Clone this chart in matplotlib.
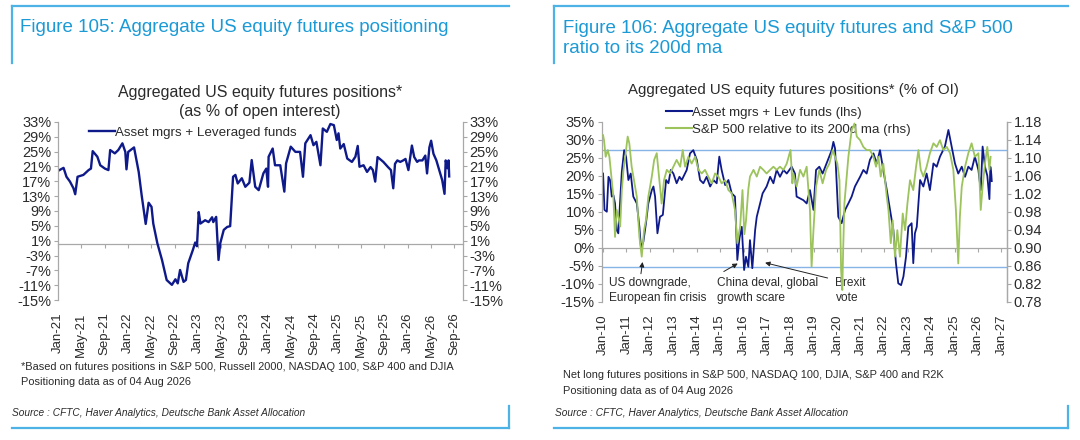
# -*- coding: utf-8 -*-
"""
Posicionamento agregado em futuros de acoes dos EUA (Figuras 105 e 106).
"""

import matplotlib.pyplot as plt
import matplotlib.dates as mdates
import matplotlib.ticker as mticker
import numpy as np
import pandas as pd
from matplotlib.lines import Line2D

plt.rcParams["font.family"] = ["Liberation Sans", "DejaVu Sans"]

################## Dados ##################

# Figura 105: meses desde jan/2021 e posicao liquida (% do open interest)
meses_esq = [
    0.2, 0.9, 1.4, 2.0, 2.6, 2.9, 3.3, 4.3, 5.2, 5.6, 5.9, 6.7, 7.2, 8.0, 8.6,
    8.9, 9.7, 10.3, 11.0, 11.5, 11.7, 12.0, 13.0, 13.8, 14.3, 15.0, 15.5, 16.0,
    16.3, 17.0, 17.8, 18.6, 19.5, 20.1, 20.5, 20.9, 21.5, 21.9, 22.3, 23.1,
    23.5, 23.8, 24.1, 24.4, 25.2, 25.8, 26.4, 26.6, 27.1, 27.5, 27.8, 28.4,
    29.0, 29.5, 30.0, 30.4, 30.8, 31.5, 32.1, 32.8, 33.2, 33.8, 34.4, 35.2,
    35.7, 36.0, 36.1, 36.8, 37.2, 38.1, 38.8, 39.1, 39.9, 40.7, 41.5, 42.0,
    42.4, 43.3, 43.8, 44.3, 45.0, 45.4, 46.1, 46.7, 47.3, 47.8, 48.1, 48.4,
    49.0, 49.6, 50.4, 51.0, 51.4, 51.7, 52.4, 53.0, 53.6, 54.0, 54.4, 54.8,
    55.2, 55.8, 56.6, 57.1, 57.5, 57.8, 58.2, 58.7, 59.2, 59.6, 60.1, 60.5,
    60.7, 61.1, 61.6, 61.9, 62.5, 63.0, 63.3, 63.7, 64.0, 64.4, 64.9, 65.4,
    65.9, 66.3, 66.5, 66.8, 67.0, 67.1,
]
posicao_esq = [
    20.0, 20.6, 18.2, 16.9, 15.1, 13.5, 18.2, 18.7, 20.0, 20.4, 25.1, 23.6,
    21.3, 20.4, 20.0, 25.4, 24.5, 25.4, 27.2, 24.9, 20.2, 24.9, 26.1, 19.5,
    13.3, 5.5, 11.2, 10.1, 5.6, 0.3, -4.2, -9.6, -10.9, -9.4, -10.5, -6.9,
    -10.1, -9.6, -5.1, -1.5, 0.5, -0.5, 8.7, 5.6, 6.5, 6.0, 7.3, 6.0, 7.4,
    -4.2, 0.3, 3.9, 4.7, 4.9, 18.2, 18.7, 16.4, 17.8, 15.5, 16.6, 22.7, 15.5,
    14.6, 19.1, 20.4, 15.5, 23.6, 25.8, 21.3, 21.3, 14.2, 21.8, 26.3, 24.9,
    24.9, 18.2, 27.2, 29.4, 26.7, 27.6, 21.3, 31.2, 30.3, 32.4, 32.1, 28.1,
    29.9, 25.8, 27.0, 23.1, 22.2, 23.6, 26.5, 20.9, 21.3, 19.5, 20.8, 20.0,
    16.9, 23.5, 23.0, 22.2, 20.8, 20.0, 15.1, 21.7, 22.6, 22.2, 22.6, 23.0,
    20.0, 24.4, 26.6, 23.5, 22.2, 22.6, 22.6, 23.9, 19.1, 26.1, 27.9, 24.4,
    22.6, 20.0, 17.3, 13.6, 22.6, 20.5, 22.6, 18.3,
]

# Figura 106: anos (fracao decimal) e posicao liquida (% do OI, eixo esquerdo)
anos_pos = [
    2010.00, 2010.06, 2010.16, 2010.23, 2010.30, 2010.37, 2010.44, 2010.51,
    2010.58, 2010.65, 2010.73, 2010.80, 2010.90, 2010.98, 2011.08, 2011.18,
    2011.29, 2011.44, 2011.55, 2011.62, 2011.72, 2011.83, 2011.93, 2012.08,
    2012.15, 2012.22, 2012.32, 2012.43, 2012.55, 2012.69, 2012.79, 2012.89,
    2013.00, 2013.14, 2013.26, 2013.36, 2013.57, 2013.71, 2013.85, 2014.00,
    2014.14, 2014.28, 2014.42, 2014.57, 2014.71, 2014.85, 2014.96, 2015.06,
    2015.21, 2015.35, 2015.49, 2015.63, 2015.73, 2015.82, 2015.92, 2016.02,
    2016.10, 2016.20, 2016.27, 2016.37, 2016.49, 2016.56, 2016.70, 2016.81,
    2016.98, 2017.13, 2017.27, 2017.41, 2017.55, 2017.70, 2017.84, 2018.05,
    2018.19, 2018.26, 2018.41, 2018.55, 2018.69, 2018.83, 2018.98, 2019.09,
    2019.23, 2019.37, 2019.54, 2019.76, 2019.83, 2019.90, 2020.04, 2020.18,
    2020.33, 2020.47, 2020.61, 2020.75, 2020.97, 2021.11, 2021.25, 2021.39,
    2021.54, 2021.68, 2021.82, 2021.96, 2022.11, 2022.25, 2022.39, 2022.50,
    2022.60, 2022.72, 2022.82, 2022.93, 2023.03, 2023.17, 2023.24, 2023.31,
    2023.39, 2023.53, 2023.67, 2023.81, 2023.95, 2024.10, 2024.24, 2024.38,
    2024.59, 2024.74, 2024.88, 2025.02, 2025.16, 2025.31, 2025.45, 2025.59,
    2025.73, 2025.87, 2026.02, 2026.12, 2026.20, 2026.30, 2026.40, 2026.49,
    2026.53, 2026.57, 2026.59,
]
posicao_dir = [
    20.6, 10.5, 10.0, 19.7, 18.8, 14.2, 14.6, 12.3, 4.9, 4.0, 13.2, 21.1,
    27.1, 25.3, 18.8, 20.6, 14.2, 12.3, 5.8, -0.2, 1.7, 6.8, 12.3, 16.0, 17.0,
    14.2, 4.0, 8.6, 9.1, 18.8, 17.9, 21.6, 20.6, 17.9, 19.7, 18.8, 21.6, 26.2,
    27.1, 24.4, 18.8, 17.9, 19.7, 17.0, 18.8, 17.9, 25.3, 21.6, 17.4, 18.8,
    15.1, 14.2, -3.4, 2.6, 5.8, -6.2, -2.5, -5.3, 2.1, -5.7, 4.9, 8.6, 12.3,
    15.1, 17.0, 19.7, 17.9, 21.6, 19.7, 21.6, 20.6, 22.5, 20.6, 14.2, 13.7,
    13.2, 12.3, 16.0, 10.5, 21.6, 22.5, 20.6, 23.4, 27.1, 29.4, 27.6, 8.6, 6.8,
    10.5, 12.3, 14.2, 17.0, 19.7, 21.6, 20.6, 24.4, 26.2, 23.4, 27.1, 21.6,
    16.0, 10.5, 4.9, -4.3, -9.9, -10.4, -8.0, -2.5, 5.8, 6.8, -4.3, 4.0, 5.8,
    18.8, 17.0, 20.6, 16.0, 23.4, 22.5, 25.3, 28.1, 32.7, 28.1, 23.4, 20.6,
    22.5, 19.7, 22.5, 21.6, 25.3, 21.6, 16.0, 28.1, 22.5, 20.0, 13.5, 22.5,
    20.5, 18.5,
]

# Figura 106: S&P 500 relativo a media movel de 200 dias (eixo direito)
anos_spx = [
    2010.00, 2010.04, 2010.11, 2010.20, 2010.27, 2010.37, 2010.44, 2010.51,
    2010.58, 2010.65, 2010.73, 2010.80, 2010.87, 2010.98, 2011.05, 2011.12,
    2011.22, 2011.32, 2011.44, 2011.55, 2011.65, 2011.75, 2011.83, 2011.93,
    2012.08, 2012.18, 2012.29, 2012.40, 2012.50, 2012.60, 2012.72, 2012.86,
    2013.00, 2013.14, 2013.29, 2013.40, 2013.50, 2013.64, 2013.78, 2013.93,
    2014.07, 2014.21, 2014.35, 2014.49, 2014.64, 2014.78, 2014.92, 2015.06,
    2015.21, 2015.35, 2015.49, 2015.63, 2015.73, 2015.85, 2015.95, 2016.03,
    2016.10, 2016.20, 2016.27, 2016.42, 2016.56, 2016.70, 2016.84, 2016.98,
    2017.13, 2017.27, 2017.41, 2017.55, 2017.70, 2017.84, 2018.00, 2018.08,
    2018.12, 2018.26, 2018.41, 2018.55, 2018.69, 2018.83, 2018.90, 2018.98,
    2019.09, 2019.23, 2019.37, 2019.52, 2019.66, 2019.80, 2020.00, 2020.09,
    2020.16, 2020.21, 2020.25, 2020.30, 2020.40, 2020.47, 2020.61, 2020.73,
    2020.83, 2020.97, 2021.11, 2021.25, 2021.39, 2021.54, 2021.65, 2021.75,
    2021.85, 2021.96, 2022.11, 2022.18, 2022.28, 2022.36, 2022.46, 2022.56,
    2022.67, 2022.79, 2022.89, 2022.99, 2023.10, 2023.24, 2023.36, 2023.46,
    2023.56, 2023.67, 2023.81, 2023.95, 2024.10, 2024.24, 2024.38, 2024.52,
    2024.67, 2024.81, 2024.95, 2025.06, 2025.16, 2025.23, 2025.31, 2025.45,
    2025.59, 2025.73, 2025.87, 2026.02, 2026.12, 2026.20, 2026.30, 2026.40,
    2026.49, 2026.54,
]
spx_ratio = [
    1.150, 1.139, 1.102, 1.117, 1.102, 1.050, 1.013, 0.924, 0.984, 0.969,
    0.947, 1.028, 1.073, 1.117, 1.147, 1.132, 1.080, 1.050, 1.013, 0.924,
    0.880, 0.939, 0.961, 1.013, 1.058, 1.095, 1.110, 1.050, 0.998, 1.050,
    1.073, 1.065, 1.080, 1.095, 1.080, 1.117, 1.080, 1.102, 1.087, 1.102,
    1.073, 1.065, 1.073, 1.058, 1.043, 1.065, 1.058, 1.043, 1.050, 1.028,
    1.021, 0.984, 0.910, 0.947, 1.028, 0.930, 0.960, 1.030, 1.058, 1.073,
    1.058, 1.080, 1.073, 1.065, 1.073, 1.080, 1.073, 1.080, 1.073, 1.087,
    1.117, 1.043, 1.065, 1.036, 1.073, 1.058, 1.080, 0.984, 0.858, 0.939,
    1.036, 1.073, 1.043, 1.073, 1.087, 1.117, 1.087, 1.050, 0.850, 0.806,
    0.900, 0.998, 1.058, 1.102, 1.161, 1.176, 1.147, 1.139, 1.124, 1.117,
    1.117, 1.102, 1.080, 1.102, 1.058, 1.087, 1.013, 0.984, 0.910, 0.961,
    0.880, 0.939, 0.880, 0.976, 0.939, 0.998, 1.050, 1.028, 1.080, 1.117,
    1.073, 1.058, 1.080, 1.110, 1.132, 1.124, 1.139, 1.117, 1.124, 1.110,
    1.073, 0.984, 0.865, 0.969, 1.036, 1.080, 1.110, 1.132, 1.102, 1.110,
    0.984, 1.036, 1.087, 1.124, 1.073, 1.102,
]

# linhas de referencia horizontais (% do OI)
linhas_ref = [27.2, -5.4]

# eventos anotados: (texto, ano do texto, y do texto, ano da seta, y da seta, ano da ponta, y da ponta)
eventos = [
    ("US downgrade,\nEuropean fin crisis", 2010.25, -8.0, 2011.60, -8.0, 2011.70, -3.2),
    ("China deval, global\ngrowth scare", 2014.88, -8.0, 2015.05, -7.0, 2015.85, -4.0),
    ("Brexit\nvote", 2019.92, -8.0, 2019.70, -8.6, 2016.80, -4.0),
]

titulo_105 = "Figure 105: Aggregate US equity futures positioning"
titulo_106 = "Figure 106: Aggregate US equity futures and S&P 500\nratio to its 200d ma"
fonte = "Source : CFTC, Haver Analytics, Deutsche Bank Asset Allocation"


def meses_para_datas(meses):
    return pd.Timestamp("2021-01-01") + pd.to_timedelta(np.array(meses) * 30.44, unit="D")


def anos_para_datas(anos):
    return pd.Timestamp("2010-01-01") + pd.to_timedelta((np.array(anos) - 2010) * 365.25, unit="D")


################## Estilo ##################

AZUL = "#0f1a8a"
VERDE = "#9cc35c"
CINZA = "#a8a8a8"
TEXTO = "#2b2b2b"
AZUL_TITULO = "#1b9ad6"
AZUL_MOLDURA = "#4db2e6"
AZUL_REF = "#86b4e6"


def estilo_eixos(ax, zero_frac, ticks_x):
    for lado in ["top", "bottom"]:
        ax.spines[lado].set_visible(False)
    for lado in ["left", "right"]:
        ax.spines[lado].set_color(CINZA)
        ax.spines[lado].set_linewidth(0.9)
    ax.tick_params(axis="y", direction="out", length=3, color=CINZA,
                   labelcolor=TEXTO, labelsize=10.5, pad=2)
    ax.tick_params(axis="x", length=0, labelrotation=90, labelsize=9.5,
                   labelcolor=TEXTO, pad=9)
    ax.set_xticks(ticks_x)
    # eixo do zero com marcas de tick
    zero = ax.secondary_xaxis(zero_frac)
    zero.set_xticks(mdates.date2num(ticks_x))
    zero.xaxis.set_major_formatter(mticker.NullFormatter())
    zero.spines["bottom"].set_color(CINZA)
    zero.spines["bottom"].set_linewidth(0.9)
    zero.tick_params(direction="out", length=3, color=CINZA)


fig = plt.figure(figsize=(10.8, 4.4), dpi=100)

################## Figura 105 ##################

ax1 = fig.add_axes([0.054, 0.318, 0.3744, 0.4052])
ax1.plot(meses_para_datas(meses_esq), posicao_esq, color=AZUL, lw=1.7,
         label="Asset mgrs + Leveraged funds")
ax1.set_ylim(-15, 33)
ax1.set_yticks(np.arange(-15, 34, 4))
ax1.yaxis.set_major_formatter(mticker.FormatStrFormatter("%d%%"))
ax1.yaxis.set_ticks_position("both")
ax1.tick_params(axis="y", labelright=True)
ax1.set_xlim(pd.Timestamp("2021-01-01"), pd.Timestamp("2026-10-15"))
ticks_105 = pd.date_range("2021-01-01", "2026-09-01", freq="4MS")
estilo_eixos(ax1, 15 / 48, ticks_105)
ax1.xaxis.set_major_formatter(mdates.DateFormatter("%b-%y"))
ax1.legend(loc="upper left", bbox_to_anchor=(0.045, 1.04), frameon=False,
           fontsize=9.6, handlelength=1.95, handletextpad=0.0, labelcolor=TEXTO)

fig.text(260 / 1080, 1 - 92 / 440, "Aggregated US equity futures positions*",
         ha="center", va="center", fontsize=11.5, color=TEXTO)
fig.text(260 / 1080, 1 - 111.5 / 440, "(as % of open interest)",
         ha="center", va="center", fontsize=11.5, color=TEXTO)

################## Figura 106 ##################

ax2 = fig.add_axes([0.5571, 0.3143, 0.375, 0.4091])
ax2.plot(anos_para_datas(anos_pos), posicao_dir, color=AZUL, lw=1.3)
for y in linhas_ref:
    ax2.axhline(y, color=AZUL_REF, lw=1.0, zorder=0)
ax2.set_ylim(-15, 35)
ax2.set_yticks(np.arange(-15, 36, 5))
ax2.yaxis.set_major_formatter(mticker.FormatStrFormatter("%d%%"))
ax2.set_xlim(pd.Timestamp("2009-12-10"), pd.Timestamp("2027-03-25"))
ticks_106 = pd.date_range("2010-01-01", "2027-01-01", freq="YS")
estilo_eixos(ax2, 15 / 50, ticks_106)
ax2.xaxis.set_major_formatter(mdates.DateFormatter("%b-%y"))

ax2b = ax2.twinx()
ax2b.plot(anos_para_datas(anos_spx), spx_ratio, color=VERDE, lw=1.3)
ax2b.set_ylim(0.78, 1.18)
ax2b.set_yticks(np.arange(0.78, 1.19, 0.04))
ax2b.yaxis.set_major_formatter(mticker.FormatStrFormatter("%.2f"))
for lado in ["top", "bottom", "left"]:
    ax2b.spines[lado].set_visible(False)
ax2b.spines["right"].set_color(CINZA)
ax2b.spines["right"].set_linewidth(0.9)
ax2b.tick_params(axis="y", direction="out", length=3, color=CINZA,
                 labelcolor=TEXTO, labelsize=10.5, pad=2)

for texto, tx, ty, ax_, ay, px, py in eventos:
    ax2.text(anos_para_datas([tx])[0], ty, texto, ha="left", va="top",
             fontsize=8.6, color=TEXTO, linespacing=1.35)
    ax2.annotate("", xy=(anos_para_datas([px])[0], py),
                 xytext=(anos_para_datas([ax_])[0], ay),
                 arrowprops=dict(arrowstyle="-|>", color="#222222", lw=0.7,
                                 mutation_scale=7))

legenda = [
    Line2D([], [], color=AZUL, lw=1.5, label="Asset mgrs + Lev funds (lhs)"),
    Line2D([], [], color=VERDE, lw=1.5, label="S&P 500 relative to its 200d ma (rhs)"),
]
ax2.legend(handles=legenda, loc="upper left", bbox_to_anchor=(0.13, 1.15),
           frameon=False, fontsize=9.6, handlelength=1.9, handletextpad=0.0,
           labelspacing=0.35, labelcolor=TEXTO)

fig.text(793 / 1080, 1 - 90 / 440, "Aggregated US equity futures positions* (% of OI)",
         ha="center", va="center", fontsize=10.8, color=TEXTO)

################## Titulos, notas e moldura ##################

fig.text(20 / 1080, 1 - 27 / 440, titulo_105, ha="left", va="center",
         fontsize=13.5, color=AZUL_TITULO)
fig.text(563 / 1080, 1 - 38.5 / 440, titulo_106, ha="left", va="center",
         fontsize=13.5, color=AZUL_TITULO, linespacing=1.3)

fig.text(21 / 1080, 1 - 366.5 / 440,
         "*Based on futures positions in S&P 500, Russell 2000, NASDAQ 100, S&P 400 and DJIA",
         ha="left", va="center", fontsize=7.9, color=TEXTO)
fig.text(21 / 1080, 1 - 382 / 440, "Positioning data as of 04 Aug 2026",
         ha="left", va="center", fontsize=7.9, color=TEXTO)
fig.text(563 / 1080, 1 - 375 / 440,
         "Net long futures positions in S&P 500, NASDAQ 100, DJIA, S&P 400 and R2K",
         ha="left", va="center", fontsize=7.9, color=TEXTO)
fig.text(563 / 1080, 1 - 390.5 / 440, "Positioning data as of 04 Aug 2026",
         ha="left", va="center", fontsize=7.9, color=TEXTO)
for x0 in [12, 555]:
    fig.text(x0 / 1080, 1 - 413 / 440, fonte, ha="left", va="center",
             fontsize=7.3, style="italic", color=TEXTO)

# moldura azul de cada painel
for x0, x1 in [(12, 509), (554, 1068)]:
    for xs, ys in [
        ([x0, x1], [6.5, 6.5]),
        ([x0, x0], [6.5, 63]),
        ([x0, x1], [428, 428]),
        ([x1, x1], [406, 428]),
    ]:
        fig.add_artist(Line2D(np.array(xs) / 1080, 1 - np.array(ys) / 440,
                              color=AZUL_MOLDURA, lw=1.6,
                              transform=fig.transFigure))

fig.savefig("out.png", dpi=100)
plt.close(fig)
